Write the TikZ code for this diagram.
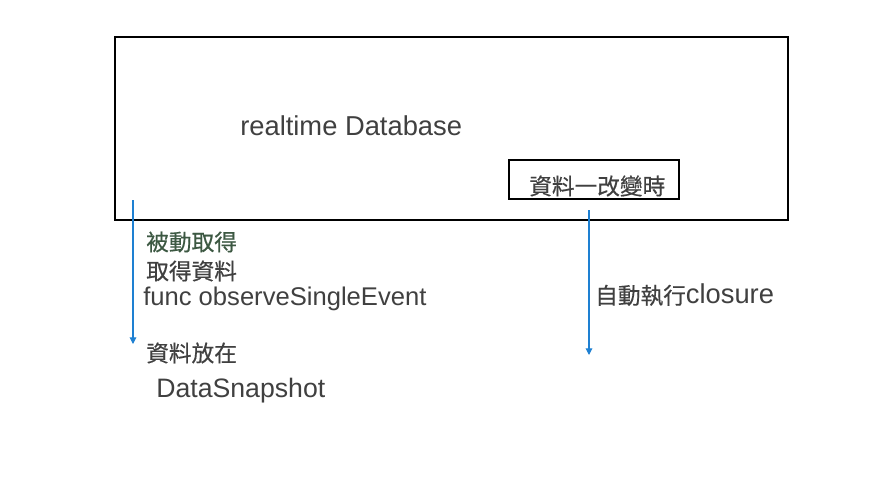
\documentclass[tikz,border=0pt]{standalone}
\usepackage{fontspec}
\setmainfont{Liberation Sans}
\newfontfamily\cjk[FakeBold=0.5]{Noto Sans CJK TC}
\usetikzlibrary{arrows.meta}
\definecolor{txt}{RGB}{64,64,64}
\definecolor{grn}{RGB}{60,88,66}
\definecolor{arr}{RGB}{30,128,210}
\tikzset{
  frame/.style={draw=black, line width=1pt, fill=white, inner sep=0pt},
  lbl/.style={anchor=west, inner sep=0pt, text=txt, font=\fontsize{19.5pt}{22pt}\selectfont},
  clbl/.style={anchor=west, inner sep=0pt, text=txt, font=\fontsize{17pt}{20pt}\selectfont\cjk},
  flow/.style={draw=arr, line width=0.8pt, -{Triangle[length=5pt,width=5pt]}}
}
\begin{document}
\begin{tikzpicture}[x=0.75pt,y=-0.75pt]
\useasboundingbox (0,0) rectangle (890,478);
\node[frame, minimum width=504.75pt, minimum height=137.25pt] (db) at (451.5,128.5) {};
\node[lbl, font=\fontsize{20.5pt}{24pt}\selectfont] (dbt) at (240,126) {realtime Database};
\node[frame, minimum width=127.5pt, minimum height=29.25pt] (chg) at (594,179.5) {};
\node[clbl] (chgt) at (529,186) {資料一改變時};
\node[clbl, text=grn] (l1) at (146,242) {被動取得};
\node[clbl] (l2) at (146,271) {取得資料};
\node[lbl, font=\fontsize{19.2pt}{22pt}\selectfont] (l3) at (143,299) {func observeSingleEvent};
\node[clbl] (l4) at (146,353) {資料放在};
\node[lbl, font=\fontsize{20pt}{23pt}\selectfont] (l5) at (156,391) {DataSnapshot};
\node[anchor=west, inner sep=0pt, text=txt] (r1) at (595,295) {{\fontsize{17pt}{20pt}\selectfont\cjk 自動執行}{\fontsize{20.5pt}{24pt}\selectfont closure}};
\coordinate (la) at (133,200);
\coordinate (lb) at (133,344);
\coordinate (ra) at (589,210);
\coordinate (rb) at (589,355);
\draw[flow] (la) -- (lb);
\draw[flow] (ra) -- (rb);
\end{tikzpicture}
\end{document}
